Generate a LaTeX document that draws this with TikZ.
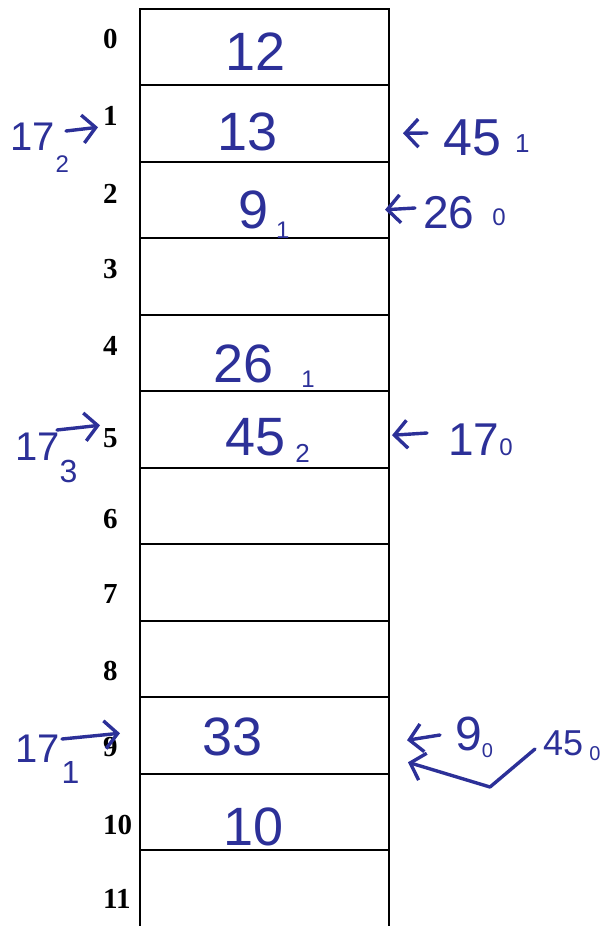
\documentclass[tikz,border=0pt]{standalone}
\usepackage{fontspec}
\setmainfont{Liberation Serif}
\newfontfamily\handfont{Liberation Sans}
\usetikzlibrary{arrows.meta,calc}
\definecolor{ink}{RGB}{44,48,152}
% small hand-written index digit after a value
\newcommand{\lowidx}[3][0pt]{\raisebox{#1}{\fontsize{#2}{#2}\selectfont #3}}

\begin{document}
\begin{tikzpicture}[
  x=1pt, y=-1pt,
  cell/.style={draw, line width=2pt, minimum width=249pt, minimum height=76.5pt, inner sep=0pt, outer sep=0pt},
  openbox/.style={cell, draw=none},
  idx/.style={font=\fontsize{29}{32}\selectfont\bfseries, anchor=base west, inner sep=0pt},
  val/.style={text=ink, font=\handfont\fontsize{54}{60}\selectfont, anchor=base west, inner sep=0pt},
  note/.style={text=ink, font=\handfont\fontsize{#1}{#1}\selectfont, anchor=base west, inner sep=0pt},
  note/.default=46,
  hand/.style={-{Straight Barb[length=13pt,width=28pt]}, ink, line width=3.4pt, line cap=round, line join=round},
]
  \useasboundingbox (0,0) rectangle (608,926);

  % the table
  \foreach \i in {0,...,10}
    \node[cell] (cell\i) at (264.5,{46.75+76.5*\i}) {};
  \node[openbox] (cell11) at (264.5,{46.75+76.5*11}) {};
  \draw[line width=2pt] (cell11.south west) -- (cell11.north west) -- (cell11.north east) -- (cell11.south east);

  % row numbers
  \node[idx] (idx0)  at (103,48)  {0};
  \node[idx] (idx1)  at (103,125) {1};
  \node[idx] (idx2)  at (103,203) {2};
  \node[idx] (idx3)  at (103,278) {3};
  \node[idx] (idx4)  at (103,355) {4};
  \node[idx] (idx5)  at (103,447) {5};
  \node[idx] (idx6)  at (103,528) {6};
  \node[idx] (idx7)  at (103,603) {7};
  \node[idx] (idx8)  at (103,680) {8};
  \node[idx] (idx9)  at (103,756) {9};
  \node[idx] (idx10) at (103,834) {10};
  \node[idx] (idx11) at (103,908) {11};

  % stored keys
  \node[val] (v0)  at (225,70)  {12};
  \node[val] (v1)  at (217,150) {13};
  \node[val] (v2)  at (238,228) {9\hspace{8pt}\lowidx[-10pt]{24}{1}};
  \node[val] (v4)  at (213,382) {26\hspace{28pt}\lowidx[-5pt]{24}{1}};
  \node[val] (v5)  at (225,455) {45\hspace{10pt}\lowidx[-7pt]{26}{2}};
  \node[val] (v9)  at (202,755) {33};
  \node[val] (v10) at (223,845) {10};

  % probes from the left
  \node[note=40] (l1) at (10,150) {17\hspace{1pt}\lowidx[-22pt]{24}{2}};
  \node[note=40] (l5) at (15,460) {17\hspace{0pt}\lowidx[-22pt]{32}{3}};
  \node[note=40] (l9) at (15,762) {17\hspace{2pt}\lowidx[-21pt]{32}{1}};
  \coordinate (l1t) at (66,131);
  \coordinate (l5t) at (57,430);
  \coordinate (l9t) at (62,739);
  \draw[hand] (l1t) -- ($(cell1.west)+(-42,4)$);
  \draw[hand] (l5t) -- ($(cell5.west)+(-40,-4)$);
  \draw[hand] (l9t) -- ($(cell9.west)+(-20,-2)$);

  % probes from the right
  \node[note=52] (r1) at (443,155) {45\hspace{14pt}\lowidx[3pt]{26}{1}};
  \node[note]    (r2) at (423,228) {26\hspace{18pt}\lowidx[3pt]{24}{0}};
  \node[note]    (r5) at (448,455) {17\hspace{0pt}\lowidx{24}{0}};
  \node[note=48] (r9) at (455,750) {9\hspace{0pt}\lowidx[-7pt]{20}{0}};
  \node[note=36] (r9b) at (543,755) {45\hspace{6pt}\lowidx[-5pt]{20}{0}};
  \coordinate (r1t) at (427,133);
  \coordinate (r2t) at (415,208);
  \coordinate (r5t) at (427,433);
  \coordinate (r9t) at (440,735);
  \coordinate (r9bt) at (535,749);
  \coordinate (bend) at (490,787);
  \draw[hand] (r1t) -- ($(cell1.east)+(14,10)$);
  \draw[hand] (r2t) -- ($(cell2.east)+(-4,10)$);
  \draw[hand] (r5t) -- ($(cell5.east)+(3,6)$);
  \draw[hand] (r9t) -- ($(cell9.east)+(18,5)$);
  \draw[hand] (r9bt) -- (bend) -- ($(cell9.east)+(19,27)$);
\end{tikzpicture}
\end{document}
